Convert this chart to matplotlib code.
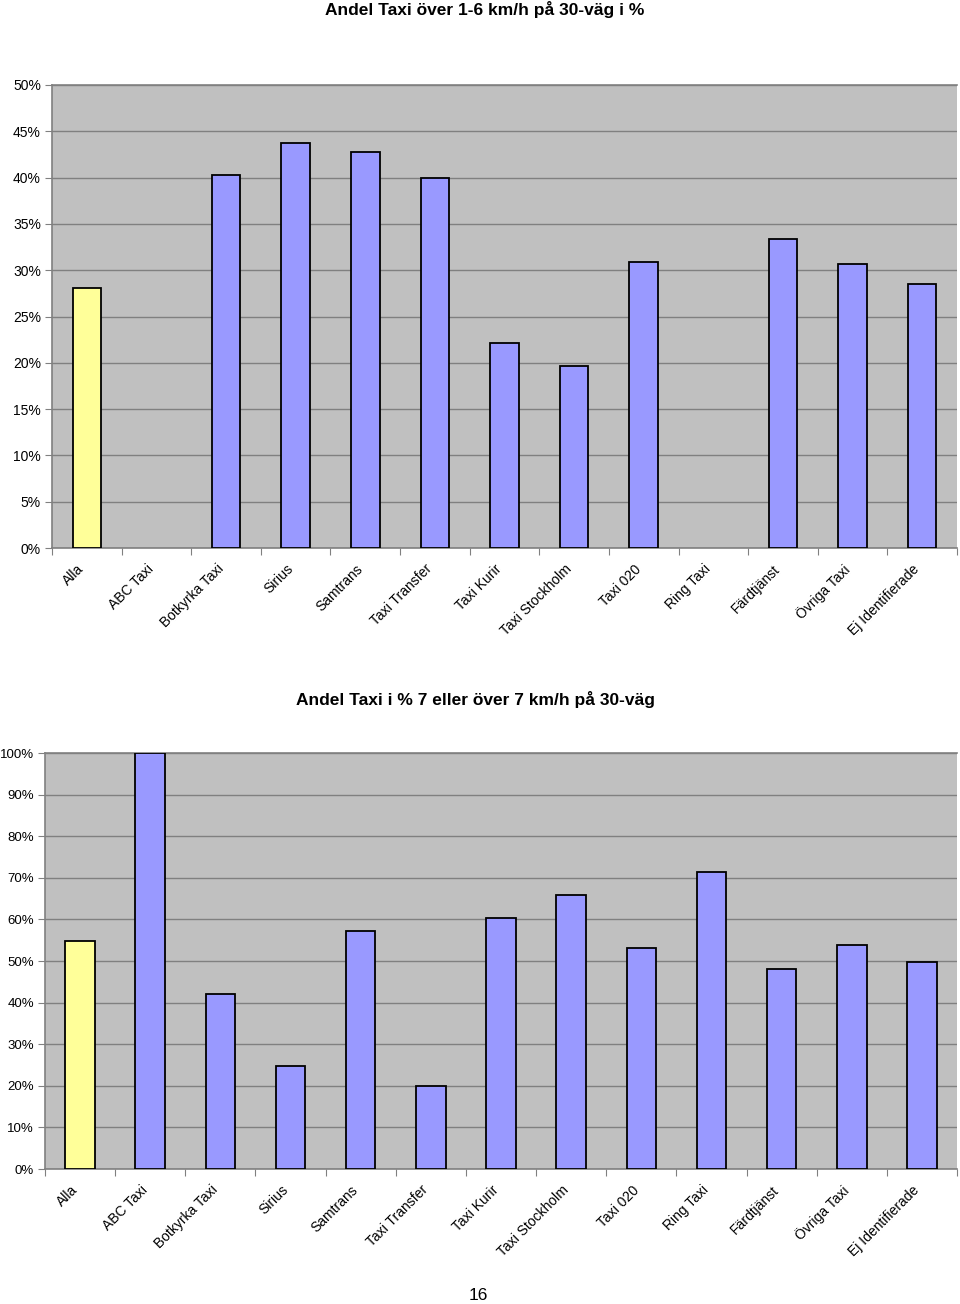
import matplotlib
matplotlib.use("Agg")
import matplotlib.pyplot as plt
from matplotlib.ticker import PercentFormatter

plt.rcParams['font.family'] = ['Liberation Sans', 'DejaVu Sans']

categories = ["Alla", "ABC Taxi", "Botkyrka Taxi", "Sirius", "Samtrans", "Taxi Transfer",
              "Taxi Kurir", "Taxi Stockholm", "Taxi 020", "Ring Taxi", "Färdtjänst",
              "Övriga Taxi", "Ej Identifierade"]
share_1_6 = [28.1, 0, 40.3, 43.7, 42.8, 40.0, 22.1, 19.7, 30.9, 0, 33.4, 30.7, 28.5]
share_7_plus = [54.8, 100, 42.1, 24.8, 57.2, 20.0, 60.3, 65.9, 53.1, 71.4, 48.1, 53.8, 49.8]
title_top = "Andel Taxi över 1-6 km/h på 30-väg i %"
title_bottom = "Andel Taxi i % 7 eller över 7 km/h på 30-väg"
page_number = "16"

yellow = "#FFFF99"
blue = "#9999FF"
face = "#C0C0C0"
grid = "#808080"

fig = plt.figure(figsize=(9.6, 13.04), dpi=100)


def draw(ax, values, ymax, ystep, width, ysize):
    n = len(categories)
    colors = [yellow] + [blue] * (n - 1)
    edges = ["black" if v > 0 else "none" for v in values]
    x = list(range(n))
    ax.set_facecolor(face)
    ax.bar(x, values, width=width, color=colors, edgecolor=edges, linewidth=1.3, zorder=3)
    ax.set_xlim(-0.5, n - 0.5)
    ax.set_ylim(0, ymax)
    ax.set_yticks([i * ystep for i in range(int(ymax / ystep) + 1)])
    ax.yaxis.set_major_formatter(PercentFormatter(decimals=0))
    ax.yaxis.grid(True, color=grid, linewidth=1.0, zorder=1)
    ax.set_axisbelow(True)
    ax.set_xticks([i - 0.5 for i in range(n + 1)])
    ax.set_xticklabels([])
    ax.tick_params(axis='x', length=5, color=grid, direction='out')
    ax.tick_params(axis='y', length=5, color=grid, direction='out', labelsize=ysize, pad=3)
    for s in ax.spines.values():
        s.set_color(grid)
        s.set_linewidth(1.2)
    ax.spines['right'].set_visible(False)
    for i, c in enumerate(categories):
        ax.annotate(c, xy=(i, 0), xycoords=('data', 'axes fraction'),
                    xytext=(-7, -10), textcoords='offset points',
                    rotation=45, ha='right', va='top', rotation_mode='anchor',
                    fontsize=10)


ax1 = fig.add_axes([52 / 960, 756 / 1304, 905 / 960, 463 / 1304])
draw(ax1, share_1_6, 50, 5, 0.41, 10)
ax2 = fig.add_axes([45 / 960, 135 / 1304, 912 / 960, 416 / 1304])
draw(ax2, share_7_plus, 100, 10, 0.42, 9.5)

fig.text(485 / 960, 1 - 10 / 1304, title_top, ha='center', va='center',
         fontsize=12.5, fontweight='bold')
fig.text(476 / 960, 1 - 700 / 1304, title_bottom, ha='center', va='center',
         fontsize=12.5, fontweight='bold')
fig.text(478 / 960, 1 - 1295 / 1304, page_number, ha='center', va='center', fontsize=12.5)

fig.savefig("out.png", dpi=100)
